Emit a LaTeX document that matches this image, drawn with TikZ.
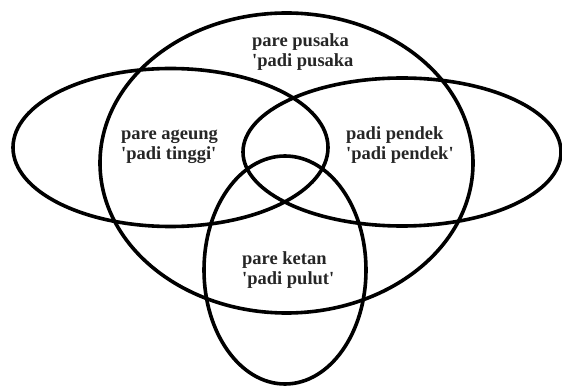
\documentclass[tikz,border=0pt]{standalone}
\usepackage{fontspec}
\newfontfamily\lblfont{Liberation Serif}[BoldFont={Liberation Serif Bold}]
\begin{document}
\begin{tikzpicture}[x=1pt,y=-1pt,
  ring/.style={draw=black,line width=3.6pt},
  lbl/.style={font=\lblfont\fontsize{18.5}{20.5}\selectfont\bfseries,text=black!85,align=left,anchor=west,inner sep=0pt}]
\useasboundingbox (0,0) rectangle (562,387);
\draw[ring] (286.5,163) ellipse [x radius=186.5, y radius=150];
\draw[ring] (170.5,147.5) ellipse [x radius=157.5, y radius=79];
\draw[ring] (402,152) ellipse [x radius=159, y radius=74];
\draw[ring] (285,270) ellipse [x radius=81, y radius=114];
\node[lbl] (pusaka) at (252,52) {pare pusaka\\\textquotesingle padi pusaka};
\node[lbl] (ageung) at (121,147) {pare ageung\\\textquotesingle padi tinggi\textquotesingle};
\node[lbl] (pendek) at (346,145) {padi pendek\\\textquotesingle padi pendek\textquotesingle};
\node[lbl] (ketan) at (242,270) {pare ketan\\\textquotesingle padi pulut\textquotesingle};
\end{tikzpicture}
\end{document}
